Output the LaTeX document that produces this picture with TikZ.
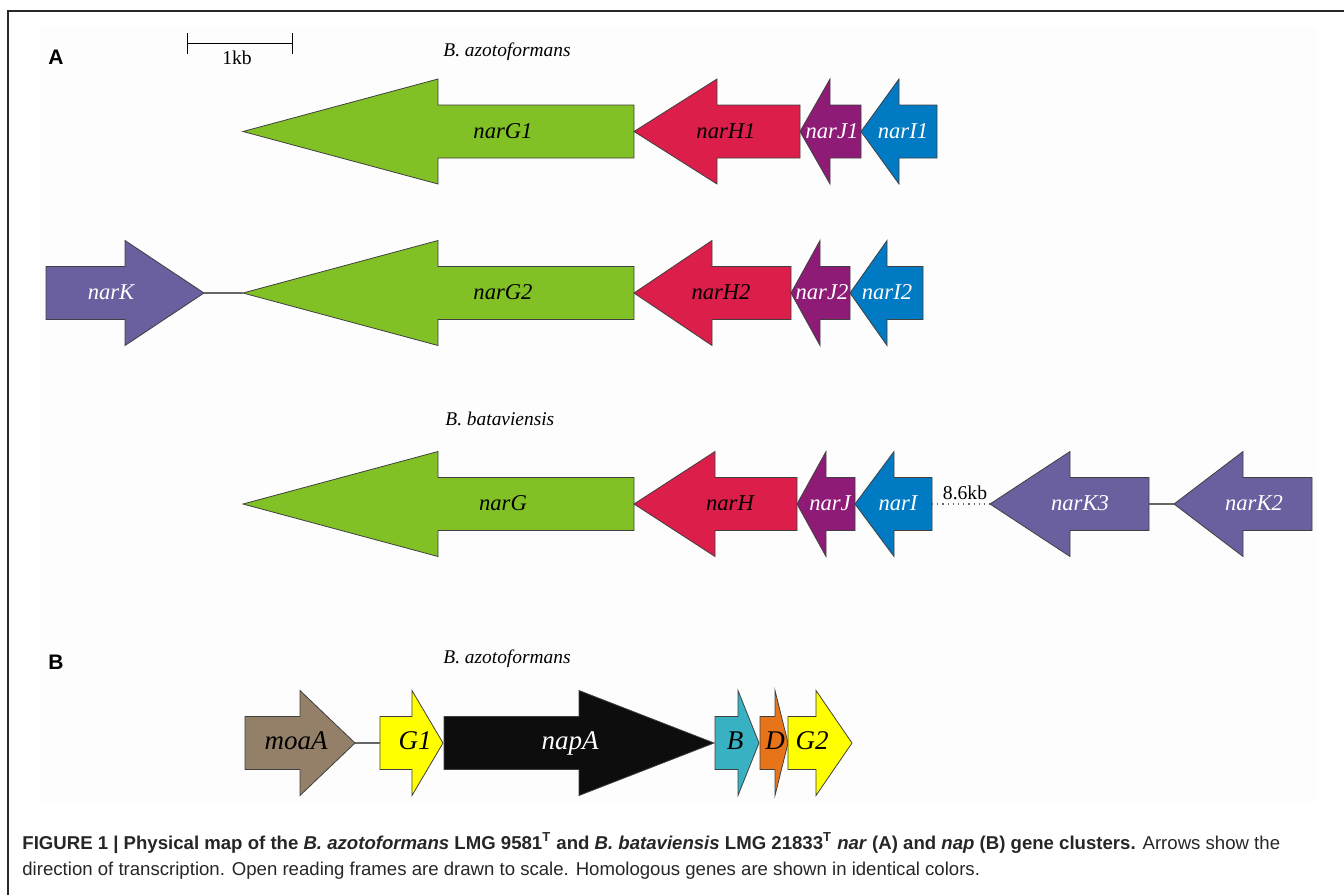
\documentclass[tikz,border=0pt]{standalone}
\usepackage{fontspec}
\setmainfont{Liberation Serif}
\setsansfont{Liberation Sans}
\usepackage{tikz}

\definecolor{narGgreen}{RGB}{130,193,38}
\definecolor{narHred}{RGB}{220,30,75}
\definecolor{narJpurple}{RGB}{142,27,117}
\definecolor{narIblue}{RGB}{0,122,194}
\definecolor{narKviolet}{RGB}{106,96,160}
\definecolor{moaAbrown}{RGB}{148,128,104}
\definecolor{napGyellow}{RGB}{255,255,0}
\definecolor{napBteal}{RGB}{56,178,194}
\definecolor{napDorange}{RGB}{232,116,26}
\definecolor{framegray}{RGB}{40,40,40}

\tikzset{
    gene/.style={draw=black!75, line width=0.4pt, line join=miter},
    genename/.style={font=\fontsize{11.3}{12}\selectfont\itshape, inner sep=0pt, text height=0.66em, text depth=0pt},
    napname/.style={genename, font=\fontsize{13.5}{14}\selectfont\itshape},
    species/.style={font=\fontsize{9.7}{11}\selectfont\itshape, inner sep=0pt, anchor=base west},
    kblabel/.style={font=\fontsize{9.8}{11}\selectfont, inner sep=0pt, anchor=base},
    panel/.style={font=\fontsize{10.5}{12}\selectfont\sffamily\bfseries, inner sep=0pt, anchor=base west},
    caption/.style={font=\fontsize{9.3}{11}\selectfont\sffamily, text=black!85, inner sep=0pt, anchor=base west},
    link/.style={draw=black!60, line width=0.6pt},
}

% gene arrow: name, tip x, head base x, tail x, y, colour
\newcommand{\gene}[6]{%
    \draw[gene, fill=#6] (#2,#5) -- (#3,#5-52.5) -- (#3,#5-26.5) -- (#4,#5-26.5)
        -- (#4,#5+26.5) -- (#3,#5+26.5) -- (#3,#5+52.5) -- cycle;
    \coordinate (#1-tip) at (#2,#5);
    \coordinate (#1-tail) at (#4,#5);
}

\begin{document}
\begin{tikzpicture}[x=0.5pt, y=-0.5pt]
\useasboundingbox (0,0) rectangle (1344,895);
\fill[black!0.8] (40,27) rectangle (1317,802);
\draw[framegray, line width=0.75pt] (1344,11) -- (8,11) -- (8,895);

%panel letters and scale bar
\node[panel] (panA) at (48,64) {A};
\node[panel] (panB) at (48,669) {B};
\draw (187,43) -- (292,43);
\draw (187,33) -- (187,54);
\draw (292,33) -- (292,54);
\node[kblabel] (onekb) at (237,64) {1kb};

%species names
\node[species] (spA) at (443,56) {B. azotoformans};
\node[species] (spB) at (445,425) {B. bataviensis};
\node[species] (spC) at (443,663) {B. azotoformans};

%first nar cluster
\gene{narG1}{243}{438}{634}{131.5}{narGgreen}
\gene{narH1}{634}{717}{800}{131.5}{narHred}
\gene{narJ1}{800}{830}{861}{131.5}{narJpurple}
\gene{narI1}{861}{899}{937}{131.5}{narIblue}
\node[genename] (lG1) at (503,131.5) {narG1};
\node[genename] (lH1) at (726,131.5) {narH1};
\node[genename, text=white] (lJ1) at (832,131.5) {narJ1};
\node[genename, text=white] (lI1) at (903,131.5) {narI1};

%second nar cluster
\gene{narK}{204}{125}{46}{293}{narKviolet}
\gene{narG2}{243}{438}{634}{293}{narGgreen}
\gene{narH2}{634}{712}{791}{293}{narHred}
\gene{narJ2}{791}{820}{850}{293}{narJpurple}
\gene{narI2}{850}{887}{923}{293}{narIblue}
\draw[link] (narK-tip) -- (narG2-tip);
\node[genename, text=white] (lK) at (111,293) {narK};
\node[genename] (lG2) at (503,293) {narG2};
\node[genename] (lH2) at (721,293) {narH2};
\node[genename, text=white] (lJ2) at (822,293) {narJ2};
\node[genename, text=white] (lI2) at (887,293) {narI2};

%B. bataviensis cluster
\gene{narG}{243}{438}{634}{504}{narGgreen}
\gene{narH}{634}{715}{797}{504}{narHred}
\gene{narJ}{797}{826}{855}{504}{narJpurple}
\gene{narI}{855}{894}{932}{504}{narIblue}
\gene{narK3}{990}{1070}{1149}{504}{narKviolet}
\gene{narK2}{1174}{1243}{1312}{504}{narKviolet}
\draw[link, dotted] (narI-tail) -- (narK3-tip);
\draw[link] (narK3-tail) -- (narK2-tip);
\node[kblabel] (gap) at (965,499) {8.6kb};
\node[genename] (lG) at (503,504) {narG};
\node[genename] (lH) at (730,504) {narH};
\node[genename, text=white] (lJ) at (830,504) {narJ};
\node[genename, text=white] (lI) at (898,504) {narI};
\node[genename, text=white] (lK3) at (1080,504) {narK3};
\node[genename, text=white] (lK2) at (1254,504) {narK2};

%nap cluster
\gene{moaA}{355}{300}{245}{743}{moaAbrown}
\gene{napG1}{443}{412}{380}{743}{napGyellow}
\gene{napA}{714}{579}{444}{743}{black!95}
\gene{napB}{759}{738}{715}{743}{napBteal}
\gene{napD}{788}{775}{760}{743}{napDorange}
\gene{napG2}{852}{816}{788}{743}{napGyellow}
\draw[link] (moaA-tip) -- (napG1-tail);
\node[napname] (lmoaA) at (296,743) {moaA};
\node[napname] (lnG1) at (415,743) {G1};
\node[napname, text=white] (lnapA) at (570,743) {napA};
\node[napname] (lnB) at (735,743) {B};
\node[napname] (lnD) at (775,743) {D};
\node[napname] (lnG2) at (812,743) {G2};

%caption
\node[caption] (cap1) at (22,849) {\textbf{FIGURE 1 | Physical map of the \textit{B. azotoformans} LMG 9581\textsuperscript{T} and \textit{B. bataviensis} LMG 21833\textsuperscript{T} \textit{nar} (A) and \textit{nap} (B) gene clusters.} Arrows show the};
\node[caption] (cap2) at (22,875) {direction of transcription. Open reading frames are drawn to scale. Homologous genes are shown in identical colors.};
\end{tikzpicture}
\end{document}
